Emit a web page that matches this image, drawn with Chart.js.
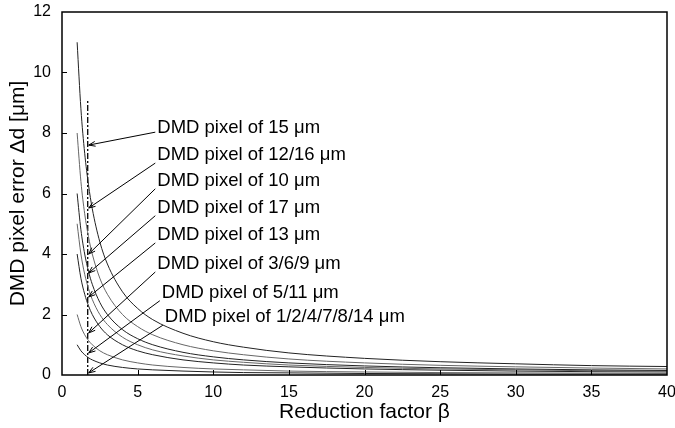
<!DOCTYPE html>
<html lang="en">
<head>
  <meta charset="UTF-8">
  <title>DMD pixel error</title>
  <script src="https://cdn.jsdelivr.net/npm/chart.js@4.4.1/dist/chart.umd.min.js"></script>
  <style>
    html, body { margin: 0; padding: 0; background: #fff; }
    #wrap { width: 675px; height: 428px; }
  </style>
</head>
<body>
  <div id="wrap"><canvas id="errorChart" width="675" height="428"></canvas></div>

  <script>
    // reduction factor samples (x)
    const beta = [1, 1.25, 1.5, 1.75, 2, 2.5, 3, 4, 5, 6, 8, 10, 12, 15, 20, 25, 30, 35, 40];

    // pixel error curves (y)
    const err11 = [11, 8.8, 7.33, 6.29, 5.5, 4.4, 3.67, 2.75, 2.2, 1.83, 1.38, 1.1, 0.92, 0.73, 0.55, 0.44, 0.37, 0.31, 0.28];
    const err8  = [8, 6.4, 5.33, 4.57, 4, 3.2, 2.67, 2, 1.6, 1.33, 1, 0.8, 0.67, 0.53, 0.4, 0.32, 0.27, 0.23, 0.2];
    const err6  = [6, 4.8, 4, 3.43, 3, 2.4, 2, 1.5, 1.2, 1, 0.75, 0.6, 0.5, 0.4, 0.3, 0.24, 0.2, 0.17, 0.15];
    const err5  = [5, 4, 3.33, 2.86, 2.5, 2, 1.67, 1.25, 1, 0.83, 0.63, 0.5, 0.42, 0.33, 0.25, 0.2, 0.17, 0.14, 0.13];
    const err4  = [4, 3.2, 2.67, 2.29, 2, 1.6, 1.33, 1, 0.8, 0.67, 0.5, 0.4, 0.33, 0.27, 0.2, 0.16, 0.13, 0.11, 0.1];
    const err2  = [2, 1.6, 1.33, 1.14, 1, 0.8, 0.67, 0.5, 0.4, 0.33, 0.25, 0.2, 0.17, 0.13, 0.1, 0.08, 0.07, 0.06, 0.05];
    const err1  = [1, 0.8, 0.67, 0.57, 0.5, 0.4, 0.33, 0.25, 0.2, 0.17, 0.13, 0.1, 0.08, 0.07, 0.05, 0.04, 0.03, 0.03, 0.03];

    // dash-dot marker line at the operating reduction factor
    const markerX = [1.7, 1.7];
    const markerY = [0, 9.1];

    // annotation texts and the error each arrow points to on the marker line
    const labelTexts = [
      'DMD pixel of 15 μm',
      'DMD pixel of 12/16 μm',
      'DMD pixel of 10 μm',
      'DMD pixel of 17 μm',
      'DMD pixel of 13 μm',
      'DMD pixel of 3/6/9 μm',
      'DMD pixel of 5/11 μm',
      'DMD pixel of 1/2/4/7/8/14 μm'
    ];
    const arrowY = [7.6, 5.52, 4.0, 3.37, 2.58, 1.39, 0.73, 0.07];

    // where the label text sits (data units)
    const labelAt = [
      [6.3, 8.16], [6.3, 7.27], [6.3, 6.42], [6.3, 5.53],
      [6.3, 4.63], [6.3, 3.67], [6.6, 2.72], [6.8, 1.91]
    ];

    const FONT = "Arial, 'Liberation Sans', sans-serif";

    function pts(ys) { return beta.map((b, i) => ({ x: b, y: ys[i] })); }

    const curves = [err11, err8, err6, err5, err4, err2, err1];
    const colors = ['#222', '#666', '#222', '#666', '#222', '#666', '#222'];

    const datasets = curves.map((c, i) => ({
      data: pts(c),
      borderColor: colors[i],
      borderWidth: 1,
      pointRadius: 0,
      cubicInterpolationMode: 'monotone',
      fill: false
    }));
    datasets.push({
      data: markerX.map((x, i) => ({ x: x, y: markerY[i] })),
      borderColor: '#000',
      borderWidth: 1.3,
      borderDash: [6, 2, 2, 2],
      pointRadius: 0
    });

    const framePlugin = {
      id: 'frame',
      afterDatasetsDraw(chart) {
        const ctx = chart.ctx, a = chart.chartArea;
        const xs = chart.scales.x, ys = chart.scales.y;
        ctx.save();
        ctx.strokeStyle = '#000';
        ctx.lineWidth = 1.5;
        ctx.strokeRect(a.left, a.top, a.right - a.left, a.bottom - a.top);

        // inner ticks
        ctx.lineWidth = 1;
        ctx.beginPath();
        for (let v = 5; v < 40; v += 5) {
          const px = Math.round(xs.getPixelForValue(v)) + 0.5;
          ctx.moveTo(px, a.bottom); ctx.lineTo(px, a.bottom - 5);
        }
        for (let v = 2; v < 12; v += 2) {
          const py = Math.round(ys.getPixelForValue(v)) + 0.5;
          ctx.moveTo(a.left, py); ctx.lineTo(a.left + 5, py);
        }
        ctx.stroke();

        // arrows and labels
        ctx.font = '18.5px ' + FONT;
        ctx.fillStyle = '#000';
        ctx.textBaseline = 'middle';
        ctx.textAlign = 'left';
        labelTexts.forEach((t, i) => {
          const lx = xs.getPixelForValue(labelAt[i][0]);
          const ly = ys.getPixelForValue(labelAt[i][1]);
          ctx.fillText(t, lx, ly);
          const sx = lx - 2, sy = ly + (i === 0 ? 4 : 8);
          const tx = xs.getPixelForValue(markerX[0]) + 1;
          const ty = ys.getPixelForValue(arrowY[i]);
          ctx.beginPath();
          ctx.moveTo(sx, sy); ctx.lineTo(tx, ty);
          const ang = Math.atan2(sy - ty, sx - tx);
          const h = 7, w = 0.35;
          ctx.moveTo(tx + h * Math.cos(ang + w), ty + h * Math.sin(ang + w));
          ctx.lineTo(tx, ty);
          ctx.lineTo(tx + h * Math.cos(ang - w), ty + h * Math.sin(ang - w));
          ctx.stroke();
        });
        ctx.restore();
      }
    };

    new Chart(document.getElementById('errorChart'), {
      type: 'line',
      data: { datasets: datasets },
      plugins: [framePlugin],
      options: {
        responsive: false,
        animation: false,
        layout: { padding: { top: 12, right: 8, left: 0, bottom: 0 } },
        plugins: { legend: { display: false }, tooltip: { enabled: false } },
        scales: {
          x: {
            type: 'linear', min: 0, max: 40,
            grid: { display: false }, border: { display: false },
            ticks: { stepSize: 5, color: '#000', font: { family: FONT, size: 16 }, padding: 0, maxRotation: 0 },
            title: { display: true, text: 'Reduction factor β', color: '#000', font: { family: FONT, size: 21 }, padding: { top: 0, bottom: 3 } },
            afterFit(scale) { scale.height = 53; scale.paddingLeft = 0; scale.paddingRight = 0; }
          },
          y: {
            type: 'linear', min: 0, max: 12,
            grid: { display: false, drawTicks: false, tickLength: 0 }, border: { display: false },
            ticks: { stepSize: 2, color: '#000', font: { family: FONT, size: 16 }, padding: 11 },
            title: { display: true, text: 'DMD pixel error Δd [μm]', color: '#000', font: { family: FONT, size: 21 }, padding: { top: 6, bottom: 0 } },
            afterFit(scale) { scale.width = 62; scale.paddingTop = 0; scale.paddingBottom = 0; }
          }
        }
      }
    });
  </script>
</body>
</html>
